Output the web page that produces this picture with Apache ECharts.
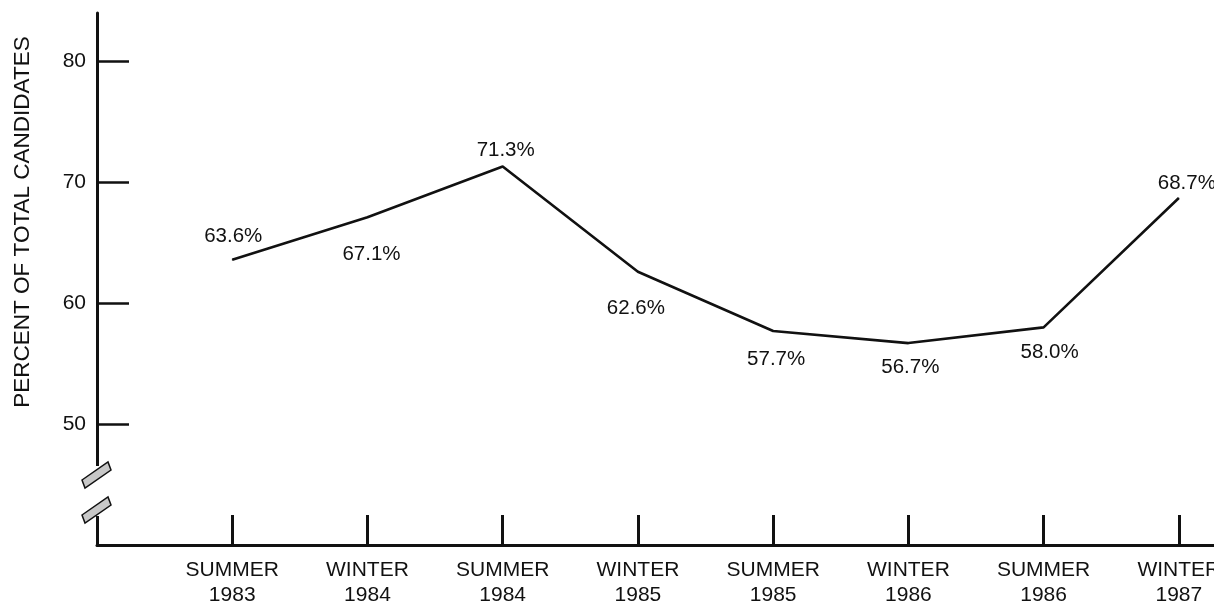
<!DOCTYPE html>
<html>
<head>
<meta charset="utf-8">
<script src="https://cdn.jsdelivr.net/npm/echarts@6/dist/echarts.min.js"></script>
<style>
  html, body { margin: 0; padding: 0; background: #fff; }
  #chart { width: 1214px; height: 607px; }
</style>
</head>
<body>
<div id="chart"></div>
<script>
// data
const seasons = ["SUMMER", "WINTER", "SUMMER", "WINTER", "SUMMER", "WINTER", "SUMMER", "WINTER"];
const years = ["1983", "1984", "1984", "1985", "1985", "1986", "1986", "1987"];
const rates = [63.6, 67.1, 71.3, 62.6, 57.7, 56.7, 58.0, 68.7];
const yTicks = [50, 60, 70, 80];

// where each value label sits relative to its point
const labelOffsets = [[1, -23], [4, 37], [3, -16], [-2, 37], [3, 28], [2, 24], [6, 25], [8, -15]];

const font = "'Liberation Sans', Arial, Helvetica, sans-serif";
const ink = "#111";

const chart = echarts.init(document.getElementById("chart"));

const seriesData = rates.map((v, i) => ({
  value: [i, v],
  label: { offset: labelOffsets[i] },
}));

// break symbol on the y axis (two slanted bands)
const breakBand = (y) => ({
  type: "polygon",
  shape: { points: [[82, y + 18], [108, y], [111, y + 8], [85, y + 26]] },
  style: { fill: "#c8c8c8", stroke: ink, lineWidth: 1.5 },
  z: 10,
});

chart.setOption({
  backgroundColor: "#fff",
  animation: false,
  grid: { left: 97, right: 0, top: 13, bottom: 62, outerBoundsMode: "none", containLabel: false },
  xAxis: {
    type: "value",
    min: -1,
    max: 7.26,
    splitLine: { show: false },
    axisLine: { show: true, onZero: false, lineStyle: { color: ink, width: 3 } },
    axisTick: {
      show: true,
      inside: true,
      length: 30,
      customValues: seasons.map((s, i) => i),
      lineStyle: { color: ink, width: 3 },
    },
    axisLabel: {
      customValues: seasons.map((s, i) => i),
      formatter: (v) => seasons[v] + "\n" + years[v],
      color: ink,
      fontFamily: font,
      fontSize: 21,
      lineHeight: 25,
      margin: 13,
      align: "center",
    },
  },
  yAxis: {
    type: "value",
    min: 40,
    max: 84,
    splitLine: { show: false },
    axisLine: { show: true, onZero: false, lineStyle: { color: ink, width: 3 } },
    axisTick: {
      show: true,
      inside: true,
      length: 32,
      customValues: yTicks,
      lineStyle: { color: ink, width: 2.5 },
    },
    axisLabel: {
      customValues: yTicks,
      color: ink,
      fontFamily: font,
      fontSize: 21,
      margin: 11,
    },
  },
  graphic: [
    {
      type: "rect",
      shape: { x: 92, y: 466, width: 10, height: 50 },
      style: { fill: "#fff" },
      z: 9,
    },
    breakBand(462),
    breakBand(497),
    {
      type: "text",
      x: 23,
      y: 222,
      rotation: Math.PI / 2,
      style: {
        text: "PERCENT OF TOTAL CANDIDATES",
        fill: ink,
        font: "22.5px " + font,
        align: "center",
        verticalAlign: "middle",
      },
    },
  ],
  series: [
    {
      type: "line",
      data: seriesData,
      symbol: "circle",
      symbolSize: 1,
      lineStyle: { color: ink, width: 2.6 },
      itemStyle: { color: ink },
      label: {
        show: true,
        position: "inside",
        formatter: (p) => rates[p.dataIndex].toFixed(1) + "%",
        color: ink,
        fontFamily: font,
        fontSize: 20.5,
      },
    },
  ],
});
</script>
</body>
</html>
